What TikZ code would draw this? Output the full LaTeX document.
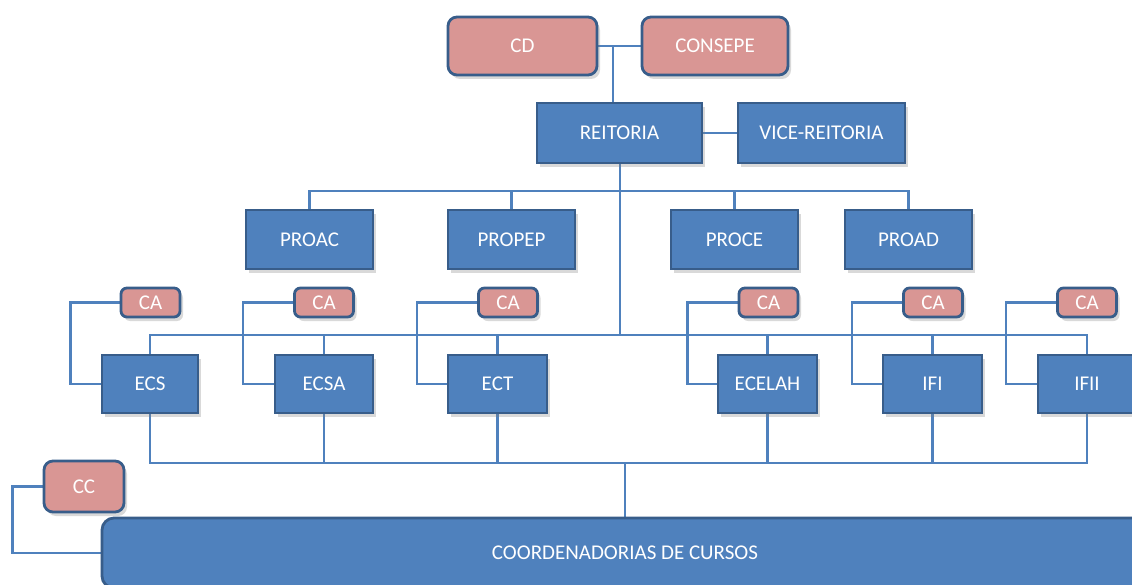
\documentclass[tikz,border=0pt]{standalone}
\usepackage{fontspec}
\setmainfont{Carlito}
\usetikzlibrary{shadows,backgrounds}
\definecolor{boxblue}{HTML}{4F81BD}
\definecolor{edgeblue}{HTML}{385D8A}
\definecolor{pinkfill}{HTML}{D99694}
\definecolor{lineblue}{HTML}{4F81BD}
\begin{document}
\begin{tikzpicture}[x=1pt,y=-1pt,
  base/.style={draw=edgeblue, line width=2.8pt, text=white, font=\fontsize{21}{24}\selectfont, inner sep=0pt,
    drop shadow={shadow xshift=3pt, shadow yshift=-4pt, opacity=0.3, fill=gray}},
  bluebox/.style={base, fill=boxblue},
  pinkbox/.style={base, fill=pinkfill, rounded corners=9pt},
  cabox/.style={pinkbox, rounded corners=6pt, minimum width=59pt, minimum height=29pt},
  probox/.style={bluebox, minimum width=127pt, minimum height=59pt},
  unitbox/.style={bluebox, minimum height=58pt},
  conn/.style={draw=lineblue, line width=2.6pt}]
\useasboundingbox (0,0) rectangle (1132,585);
% top
\node[pinkbox, minimum width=149pt, minimum height=58pt] (cd) at (522.5,46) {CD};
\node[pinkbox, minimum width=146pt, minimum height=58pt] (consepe) at (715,46) {CONSEPE};
\node[bluebox, minimum width=165pt, minimum height=60pt] (reitoria) at (619.5,133) {REITORIA};
\node[bluebox, minimum width=167pt, minimum height=60pt] (vice) at (821.5,133) {VICE-REITORIA};
% pro-reitorias
\node[probox] (proac) at (309.5,239.5) {PROAC};
\node[probox] (propep) at (511.5,239.5) {PROPEP};
\node[probox] (proce) at (734.5,239.5) {PROCE};
\node[probox] (proad) at (908.5,239.5) {PROAD};
% CA
\node[cabox] (ca1) at (150.5,302.5) {CA};
\node[cabox] (ca2) at (324,302.5) {CA};
\node[cabox] (ca3) at (508,302.5) {CA};
\node[cabox] (ca4) at (768.5,302.5) {CA};
\node[cabox] (ca5) at (933,302.5) {CA};
\node[cabox] (ca6) at (1087,302.5) {CA};
% units
\node[unitbox, minimum width=96pt] (ecs) at (150,384) {ECS};
\node[unitbox, minimum width=98pt] (ecsa) at (324,384) {ECSA};
\node[unitbox, minimum width=99pt] (ect) at (497.5,384) {ECT};
\node[unitbox, minimum width=99pt] (ecelah) at (767.5,384) {ECELAH};
\node[unitbox, minimum width=99pt] (ifi) at (932.5,384) {IFI};
\node[unitbox, minimum width=98pt] (ifii) at (1087,384) {IFII};
% bottom
\node[pinkbox, minimum width=80pt, minimum height=51pt] (cc) at (84,486.5) {CC};
\node[bluebox, rounded corners=12pt, minimum width=1046pt, minimum height=70pt] (coord) at (625,553) {COORDENADORIAS DE CURSOS};
% junctions
\coordinate (j1) at (613,46);
\coordinate (bus1) at (620,191);
\coordinate (bus2) at (620,335);
\coordinate (bus3) at (625,463);
\begin{scope}[on background layer]
\draw[conn] (cd.east) -- (consepe.west);
\draw[conn] (j1) -- (reitoria.north -| j1);
\draw[conn] (reitoria.east) -- (vice.west);
\draw[conn] (reitoria.south -| bus1) -- (bus2);
\draw[conn] (proac.north) -- (proac.north |- bus1) -- (proad.north |- bus1) -- (proad.north);
\draw[conn] (propep.north) -- (propep.north |- bus1);
\draw[conn] (proce.north) -- (proce.north |- bus1);
\draw[conn] (ecs.north) -- (ecs.north |- bus2) -- (ifii.north |- bus2) -- (ifii.north);
\foreach \n in {ecsa,ect,ecelah,ifi} \draw[conn] (\n.north) -- (\n.north |- bus2);
\draw[conn] (ecs.south) -- (ecs.south |- bus3) -- (ifii.south |- bus3) -- (ifii.south);
\foreach \n in {ecsa,ect,ecelah,ifi} \draw[conn] (\n.south) -- (\n.south |- bus3);
\draw[conn] (bus3) -- (bus3 |- coord.north);
\draw[conn] (ca1.west) -- ++(-49,0) |- (ecs.west);
\draw[conn] (ca2.west) -- ++(-50,0) |- (ecsa.west);
\draw[conn] (ca3.west) -- ++(-60,0) |- (ect.west);
\draw[conn] (ca4.west) -- ++(-50,0) |- (ecelah.west);
\draw[conn] (ca5.west) -- ++(-50,0) |- (ifi.west);
\draw[conn] (ca6.west) -- ++(-50,0) |- (ifii.west);
\draw[conn] (cc.west) -- ++(-30,0) |- (coord.west);
\end{scope}
\end{tikzpicture}
\end{document}
